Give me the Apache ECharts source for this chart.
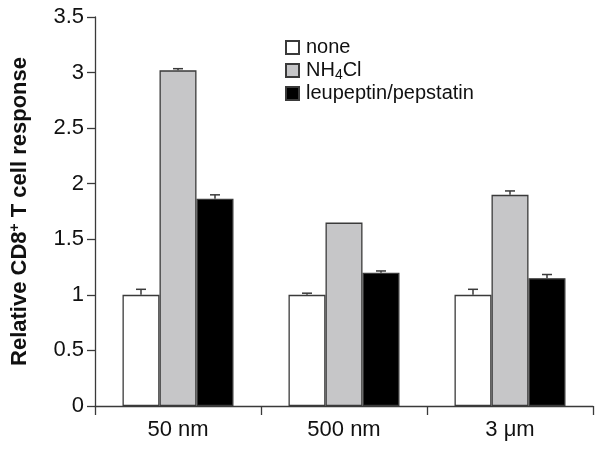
<!DOCTYPE html>
<html>
<head>
<meta charset="utf-8">
<script src="https://cdn.jsdelivr.net/npm/echarts@6/dist/echarts.min.js"></script>
<style>html,body{margin:0;padding:0;background:#fff}#c{width:601px;height:452px}</style>
</head>
<body>
<div id="c"></div>
<script>
const categories = ['50 nm', '500 nm', '3 \u03bcm'];
const seriesNames = ['none', 'NH4Cl', 'leupeptin/pepstatin'];
const noneVals = [1.0, 1.0, 1.0];
const noneErr = [0.05, 0.015, 0.05];
const nh4clVals = [3.02, 1.65, 1.90];
const nh4clErr = [0.015, 0.0, 0.035];
const leupVals = [1.865, 1.20, 1.15];
const leupErr = [0.035, 0.015, 0.033];
const yTicks = [0, 0.5, 1, 1.5, 2, 2.5, 3, 3.5];

const FONT = 'Arial, "Liberation Sans", sans-serif';
const BAR_W = 37;
const fills = ['#ffffff', '#c6c6c8', '#000000'];
const valsList = [noneVals, nh4clVals, leupVals];
const errList = [noneErr, nh4clErr, leupErr];

const chart = echarts.init(document.getElementById('c'));

const barSeries = seriesNames.map((n, i) => ({
  name: n,
  type: 'bar',
  barWidth: BAR_W,
  barGap: '0%',
  data: valsList[i],
  itemStyle: { color: fills[i], borderColor: '#3a3a3a', borderWidth: 1.3 },
  z: 2
}));

const errSeries = seriesNames.map((n, i) => ({
  type: 'custom',
  name: n + ' err',
  z: 3,
  silent: true,
  data: valsList[i].map((v, k) => [k, v, errList[i][k]]),
  renderItem: function (params, api) {
    const k = api.value(0), v = api.value(1), e = api.value(2);
    const p0 = api.coord([k, v]);
    const p1 = api.coord([k, v + e]);
    const x = p0[0] + (i - 1) * BAR_W;
    const style = { stroke: '#3a3a3a', lineWidth: 1.5 };
    if (e <= 0) return { type: 'group', children: [] };
    return {
      type: 'group',
      children: [
        { type: 'line', shape: { x1: x, y1: p0[1], x2: x, y2: p1[1] }, style: style },
        { type: 'line', shape: { x1: x - 5, y1: p1[1], x2: x + 5, y2: p1[1] }, style: style }
      ]
    };
  }
}));

chart.setOption({
  animation: false,
  backgroundColor: '#ffffff',
  textStyle: { fontFamily: FONT },
  grid: { left: 94, right: 8, top: 17, bottom: 46, containLabel: false },
  legend: {
    data: seriesNames,
    orient: 'vertical',
    left: 280,
    top: 31,
    itemWidth: 13,
    itemHeight: 13,
    itemGap: 0,
    icon: 'rect',
    selectedMode: false,
    formatter: function (name) {
      return name === 'NH4Cl' ? '{t|NH}{sub|4}{t|Cl}' : '{t|' + name + '}';
    },
    textStyle: {
      fontFamily: FONT,
      fontSize: 20,
      lineHeight: 23,
      color: '#111',
      padding: [0, 0, 0, 2],
      rich: {
        t: { fontFamily: FONT, fontSize: 20, lineHeight: 23, color: '#111' },
        sub: { fontFamily: FONT, fontSize: 14, lineHeight: 23, color: '#111', verticalAlign: 'bottom', padding: [9, 0, 0, 0] }
      }
    }
  },
  xAxis: {
    type: 'category',
    data: categories,
    axisLine: { lineStyle: { color: '#3a3a3a', width: 1.3 } },
    axisTick: { show: true, length: 9, lineStyle: { color: '#3a3a3a', width: 1.3 } },
    axisLabel: { fontFamily: FONT, fontSize: 22, color: '#111', margin: 13 }
  },
  yAxis: {
    type: 'value',
    min: 0,
    max: 3.5,
    interval: 0.5,
    name: 'Relative CD8{sup|+} T cell response',
    nameLocation: 'middle',
    nameGap: 63,
    nameRotate: 90,
    nameTextStyle: {
      fontFamily: FONT,
      fontSize: 22,
      fontWeight: 'bold',
      color: '#111',
      rich: {
        sup: { fontFamily: FONT, fontSize: 14, fontWeight: 'bold', color: '#111', verticalAlign: 'top', padding: [0, 0, 10, 0] }
      }
    },
    axisLine: { show: true, lineStyle: { color: '#3a3a3a', width: 1.3 } },
    axisTick: { show: true, length: 8, lineStyle: { color: '#3a3a3a', width: 1.3 } },
    axisLabel: {
      fontFamily: FONT, fontSize: 22, color: '#111', margin: 11,
      formatter: function (v) { return yTicks.indexOf(v) >= 0 ? String(v) : ''; }
    },
    splitLine: { show: false }
  },
  series: barSeries.concat(errSeries)
});
</script>
</body>
</html>
